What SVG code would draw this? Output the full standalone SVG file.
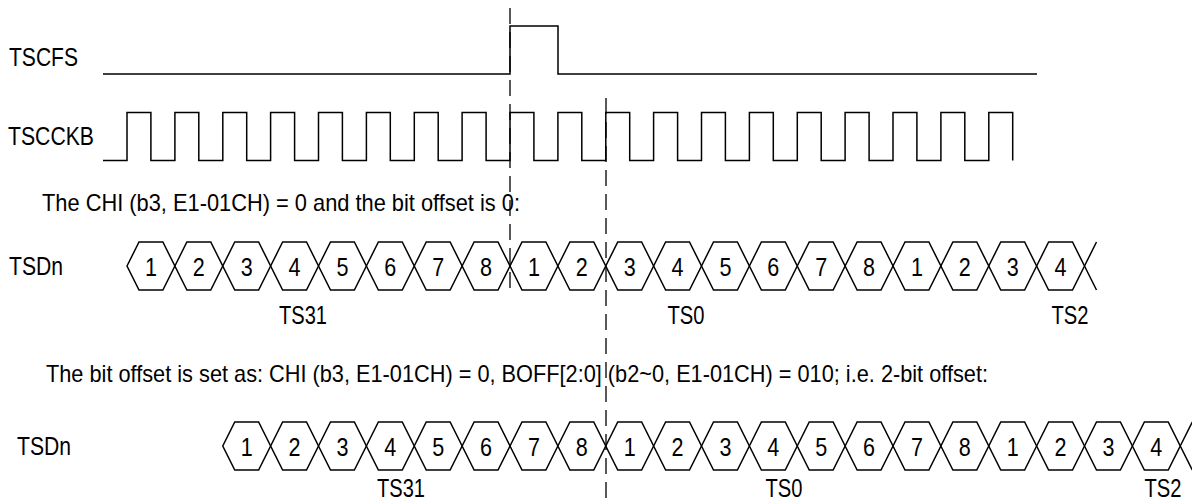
<svg xmlns="http://www.w3.org/2000/svg" xmlns:xlink="http://www.w3.org/1999/xlink" width="1192" height="501" viewBox="0 0 1192 501">
<style>
.w{fill:none;stroke:#000;stroke-width:1.5;stroke-linejoin:miter}
.d{fill:none;stroke:#000;stroke-width:1.3;stroke-dasharray:16 8}
text{font-family:"Liberation Sans Narrow","Arial Narrow","Liberation Sans",Arial,sans-serif;fill:#000}
.lb{font-size:25px}
.st{font-size:24px}
.dg{font-size:26px;text-anchor:middle}
.ts{font-size:25px;text-anchor:middle}
</style>
<defs>
<path id="hex" d="M0,0 L12,-24 L35.875,-24 L47.875,0 L35.875,24 L12,24 Z" fill="none" stroke="#000" stroke-width="1.5"/>
</defs>
<rect width="1192" height="501" fill="#fff"/>

<g id="tscfs">
<text class="lb" x="9" y="66" textLength="69" lengthAdjust="spacingAndGlyphs">TSCFS</text>
<path class="w" d="M103,74 H510 V26 H558 V74 H1037"/>
</g>

<g id="tscckb">
<text class="lb" x="8" y="145" textLength="86" lengthAdjust="spacingAndGlyphs">TSCCKB</text>
<path class="w" d="M103,160.5 H127 V112.5 H150.9 V160.5 H174.9 V112.5 H198.8 V160.5 H222.8 V112.5 H246.7 V160.5 H270.6 V112.5 H294.6 V160.5 H318.5 V112.5 H342.4 V160.5 H366.4 V112.5 H390.3 V160.5 H414.3 V112.5 H438.2 V160.5 H462.1 V112.5 H486.1 V160.5 H510 V112.5 H533.9 V160.5 H557.9 V112.5 H581.8 V160.5 H605.8 V112.5 H629.7 V160.5 H653.6 V112.5 H677.6 V160.5 H701.5 V112.5 H725.4 V160.5 H749.4 V112.5 H773.3 V160.5 H797.3 V112.5 H821.2 V160.5 H845.1 V112.5 H869.1 V160.5 H893 V112.5 H916.9 V160.5 H940.9 V112.5 H964.8 V160.5 H988.8 V112.5 H1012.7 V160.5"/>
</g>

<g id="caption1">
<text class="st" x="42" y="211" textLength="478" lengthAdjust="spacingAndGlyphs">The CHI (b3, E1-01CH) = 0 and the bit offset is 0:</text>
</g>

<g id="tsdn1">
<text class="lb" x="9" y="275" textLength="54" lengthAdjust="spacingAndGlyphs">TSDn</text>
<use xlink:href="#hex" x="127" y="266"/>
<use xlink:href="#hex" x="174.875" y="266"/>
<use xlink:href="#hex" x="222.75" y="266"/>
<use xlink:href="#hex" x="270.625" y="266"/>
<use xlink:href="#hex" x="318.5" y="266"/>
<use xlink:href="#hex" x="366.375" y="266"/>
<use xlink:href="#hex" x="414.25" y="266"/>
<use xlink:href="#hex" x="462.125" y="266"/>
<use xlink:href="#hex" x="510" y="266"/>
<use xlink:href="#hex" x="557.875" y="266"/>
<use xlink:href="#hex" x="605.75" y="266"/>
<use xlink:href="#hex" x="653.625" y="266"/>
<use xlink:href="#hex" x="701.5" y="266"/>
<use xlink:href="#hex" x="749.375" y="266"/>
<use xlink:href="#hex" x="797.25" y="266"/>
<use xlink:href="#hex" x="845.125" y="266"/>
<use xlink:href="#hex" x="893" y="266"/>
<use xlink:href="#hex" x="940.875" y="266"/>
<use xlink:href="#hex" x="988.75" y="266"/>
<use xlink:href="#hex" x="1036.625" y="266"/>
<path class="w" d="M1084.5,266 L1096.5,242 M1084.5,266 L1096.5,290"/>
<text class="dg" x="150.9" y="275.5" textLength="12" lengthAdjust="spacingAndGlyphs">1</text>
<text class="dg" x="198.8" y="275.5" textLength="12" lengthAdjust="spacingAndGlyphs">2</text>
<text class="dg" x="246.7" y="275.5" textLength="12" lengthAdjust="spacingAndGlyphs">3</text>
<text class="dg" x="294.6" y="275.5" textLength="12" lengthAdjust="spacingAndGlyphs">4</text>
<text class="dg" x="342.4" y="275.5" textLength="12" lengthAdjust="spacingAndGlyphs">5</text>
<text class="dg" x="390.3" y="275.5" textLength="12" lengthAdjust="spacingAndGlyphs">6</text>
<text class="dg" x="438.2" y="275.5" textLength="12" lengthAdjust="spacingAndGlyphs">7</text>
<text class="dg" x="486.1" y="275.5" textLength="12" lengthAdjust="spacingAndGlyphs">8</text>
<text class="dg" x="533.9" y="275.5" textLength="12" lengthAdjust="spacingAndGlyphs">1</text>
<text class="dg" x="581.8" y="275.5" textLength="12" lengthAdjust="spacingAndGlyphs">2</text>
<text class="dg" x="629.7" y="275.5" textLength="12" lengthAdjust="spacingAndGlyphs">3</text>
<text class="dg" x="677.6" y="275.5" textLength="12" lengthAdjust="spacingAndGlyphs">4</text>
<text class="dg" x="725.4" y="275.5" textLength="12" lengthAdjust="spacingAndGlyphs">5</text>
<text class="dg" x="773.3" y="275.5" textLength="12" lengthAdjust="spacingAndGlyphs">6</text>
<text class="dg" x="821.2" y="275.5" textLength="12" lengthAdjust="spacingAndGlyphs">7</text>
<text class="dg" x="869.1" y="275.5" textLength="12" lengthAdjust="spacingAndGlyphs">8</text>
<text class="dg" x="916.9" y="275.5" textLength="12" lengthAdjust="spacingAndGlyphs">1</text>
<text class="dg" x="964.8" y="275.5" textLength="12" lengthAdjust="spacingAndGlyphs">2</text>
<text class="dg" x="1012.7" y="275.5" textLength="12" lengthAdjust="spacingAndGlyphs">3</text>
<text class="dg" x="1060.6" y="275.5" textLength="12" lengthAdjust="spacingAndGlyphs">4</text>
<text class="ts" x="303" y="324" textLength="48" lengthAdjust="spacingAndGlyphs">TS31</text>
<text class="ts" x="686" y="324" textLength="37" lengthAdjust="spacingAndGlyphs">TS0</text>
<text class="ts" x="1070" y="324" textLength="37" lengthAdjust="spacingAndGlyphs">TS2</text>
</g>

<g id="caption2">
<text class="st" x="46" y="382" textLength="942" lengthAdjust="spacingAndGlyphs">The bit offset is set as: CHI (b3, E1-01CH) = 0, BOFF[2:0] (b2~0, E1-01CH) = 010; i.e. 2-bit offset:</text>
</g>

<g id="tsdn2">
<text class="lb" x="17" y="455" textLength="54" lengthAdjust="spacingAndGlyphs">TSDn</text>
<use xlink:href="#hex" x="222.75" y="446"/>
<use xlink:href="#hex" x="270.625" y="446"/>
<use xlink:href="#hex" x="318.5" y="446"/>
<use xlink:href="#hex" x="366.375" y="446"/>
<use xlink:href="#hex" x="414.25" y="446"/>
<use xlink:href="#hex" x="462.125" y="446"/>
<use xlink:href="#hex" x="510" y="446"/>
<use xlink:href="#hex" x="557.875" y="446"/>
<use xlink:href="#hex" x="605.75" y="446"/>
<use xlink:href="#hex" x="653.625" y="446"/>
<use xlink:href="#hex" x="701.5" y="446"/>
<use xlink:href="#hex" x="749.375" y="446"/>
<use xlink:href="#hex" x="797.25" y="446"/>
<use xlink:href="#hex" x="845.125" y="446"/>
<use xlink:href="#hex" x="893" y="446"/>
<use xlink:href="#hex" x="940.875" y="446"/>
<use xlink:href="#hex" x="988.75" y="446"/>
<use xlink:href="#hex" x="1036.625" y="446"/>
<use xlink:href="#hex" x="1084.5" y="446"/>
<use xlink:href="#hex" x="1132.375" y="446"/>
<path class="w" d="M1180.25,446 L1192.25,422 M1180.25,446 L1192.25,470"/>
<text class="dg" x="246.7" y="455.5" textLength="12" lengthAdjust="spacingAndGlyphs">1</text>
<text class="dg" x="294.6" y="455.5" textLength="12" lengthAdjust="spacingAndGlyphs">2</text>
<text class="dg" x="342.4" y="455.5" textLength="12" lengthAdjust="spacingAndGlyphs">3</text>
<text class="dg" x="390.3" y="455.5" textLength="12" lengthAdjust="spacingAndGlyphs">4</text>
<text class="dg" x="438.2" y="455.5" textLength="12" lengthAdjust="spacingAndGlyphs">5</text>
<text class="dg" x="486.1" y="455.5" textLength="12" lengthAdjust="spacingAndGlyphs">6</text>
<text class="dg" x="533.9" y="455.5" textLength="12" lengthAdjust="spacingAndGlyphs">7</text>
<text class="dg" x="581.8" y="455.5" textLength="12" lengthAdjust="spacingAndGlyphs">8</text>
<text class="dg" x="629.7" y="455.5" textLength="12" lengthAdjust="spacingAndGlyphs">1</text>
<text class="dg" x="677.6" y="455.5" textLength="12" lengthAdjust="spacingAndGlyphs">2</text>
<text class="dg" x="725.4" y="455.5" textLength="12" lengthAdjust="spacingAndGlyphs">3</text>
<text class="dg" x="773.3" y="455.5" textLength="12" lengthAdjust="spacingAndGlyphs">4</text>
<text class="dg" x="821.2" y="455.5" textLength="12" lengthAdjust="spacingAndGlyphs">5</text>
<text class="dg" x="869.1" y="455.5" textLength="12" lengthAdjust="spacingAndGlyphs">6</text>
<text class="dg" x="916.9" y="455.5" textLength="12" lengthAdjust="spacingAndGlyphs">7</text>
<text class="dg" x="964.8" y="455.5" textLength="12" lengthAdjust="spacingAndGlyphs">8</text>
<text class="dg" x="1012.7" y="455.5" textLength="12" lengthAdjust="spacingAndGlyphs">1</text>
<text class="dg" x="1060.6" y="455.5" textLength="12" lengthAdjust="spacingAndGlyphs">2</text>
<text class="dg" x="1108.4" y="455.5" textLength="12" lengthAdjust="spacingAndGlyphs">3</text>
<text class="dg" x="1156.3" y="455.5" textLength="12" lengthAdjust="spacingAndGlyphs">4</text>
<text class="ts" x="401" y="497" textLength="48" lengthAdjust="spacingAndGlyphs">TS31</text>
<text class="ts" x="784" y="497" textLength="37" lengthAdjust="spacingAndGlyphs">TS0</text>
<text class="ts" x="1163" y="497" textLength="37" lengthAdjust="spacingAndGlyphs">TS2</text>
</g>

<g id="connectors">
<line class="d" x1="510" y1="8" x2="510" y2="290"/>
<line class="d" x1="606" y1="98" x2="606" y2="498"/>
</g>
</svg>
